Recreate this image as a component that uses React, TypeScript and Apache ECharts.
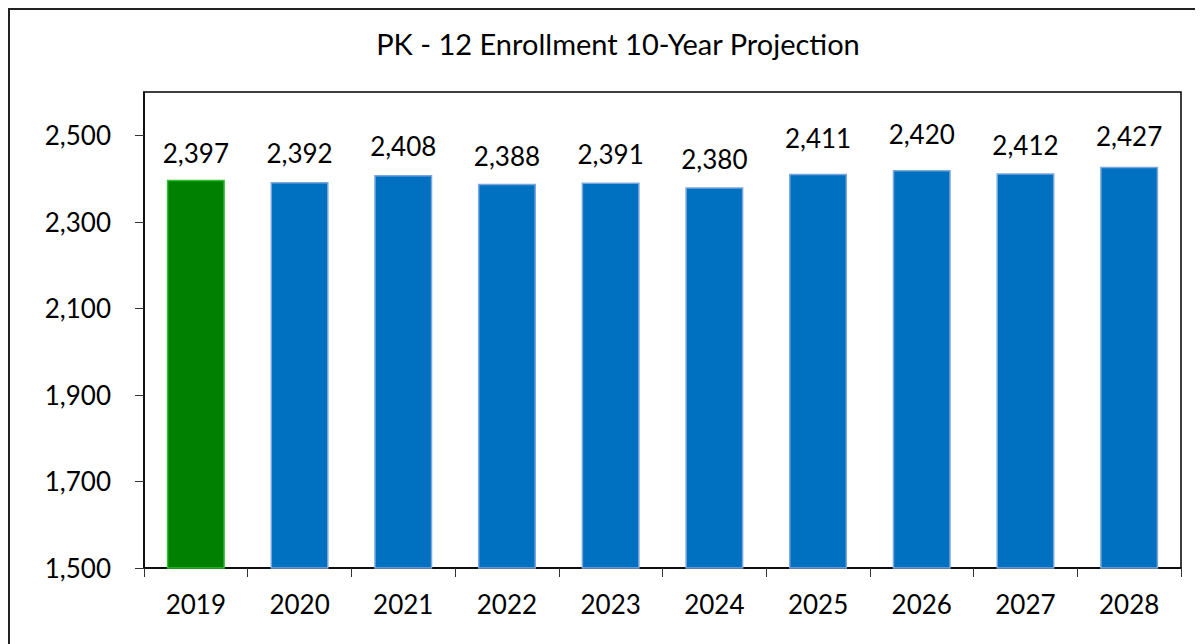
import React, { useEffect, useRef } from "react";
import * as echarts from "echarts";

const years = ["2019", "2020", "2021", "2022", "2023", "2024", "2025", "2026", "2027", "2028"];
const enrollment = [2397, 2392, 2408, 2388, 2391, 2380, 2411, 2420, 2412, 2427];
const yTicks = [1500, 1700, 1900, 2100, 2300, 2500];
const titleText = "PK - 12 Enrollment 10-Year Projection";

const FONT = "Lato, 'Open Sans', sans-serif";
const labelExtraLift = [0, 2, 2, 1, 1, 1, 9, 9, 1, 4];

const fmt = (v: number) => v.toLocaleString("en-US");

export default function App() {
  const ref = useRef<HTMLDivElement>(null);
  useEffect(() => {
    if (!ref.current) return;
    const chart = echarts.init(ref.current, undefined, { renderer: "svg" });
    chart.setOption({
      animation: false,
      backgroundColor: "#ffffff",
      textStyle: { fontFamily: FONT },
      graphic: [
        {
          type: "rect",
          shape: { x: 1, y: 1, width: 1400, height: 900 },
          style: { fill: "none", stroke: "#222", lineWidth: 2 },
          silent: true,
          z: 100,
        },
        {
          type: "text",
          x: 610,
          y: 35,
          style: {
            text: titleText,
            fontFamily: FONT,
            fontSize: 29,
            fill: "#000",
            textAlign: "center",
            textVerticalAlign: "middle",
          },
        },
      ],
      grid: {
        left: 136,
        top: 84,
        right: 22,
        bottom: 76,
        show: true,
        borderColor: "#000",
        borderWidth: 1.5,
        backgroundColor: "transparent",
      },
      xAxis: {
        type: "category",
        data: years,
        axisLine: { show: true, lineStyle: { color: "#000", width: 1.5 } },
        axisTick: { show: true, inside: false, length: 9, lineStyle: { color: "#333", width: 1 } },
        axisLabel: { margin: 23, fontSize: 26, color: "#000", fontFamily: FONT },
        splitLine: { show: false },
      },
      yAxis: {
        type: "value",
        min: 1500,
        max: 2600,
        interval: 100,
        axisLine: { show: true, lineStyle: { color: "#000", width: 1.5 } },
        axisTick: { show: true, length: 9, customValues: yTicks, lineStyle: { color: "#333" } },
        axisLabel: {
          customValues: yTicks,
          margin: 33,
          fontSize: 26,
          color: "#000",
          fontFamily: FONT,
          formatter: (v: number) => fmt(v),
        },
        splitLine: { show: false },
      },
      series: [
        {
          type: "bar",
          barWidth: 58,
          data: enrollment.map((v, i) => ({
            value: v,
            itemStyle:
              i === 0
                ? { color: "#008000", borderColor: "#2fbf2f", borderWidth: 1.5 }
                : { color: "#0070C0", borderColor: "#7aa6dc", borderWidth: 1.5 },
            label: { distance: 14 + labelExtraLift[i] },
          })),
          label: {
            show: true,
            position: "top",
            fontSize: 26,
            color: "#000",
            fontFamily: FONT,
            formatter: (p: any) => fmt(p.value),
          },
        },
      ],
    });
    return () => chart.dispose();
  }, []);
  return (
    <div
      ref={ref}
      style={{ width: 1195, height: 636 }}
    />
  );
}
